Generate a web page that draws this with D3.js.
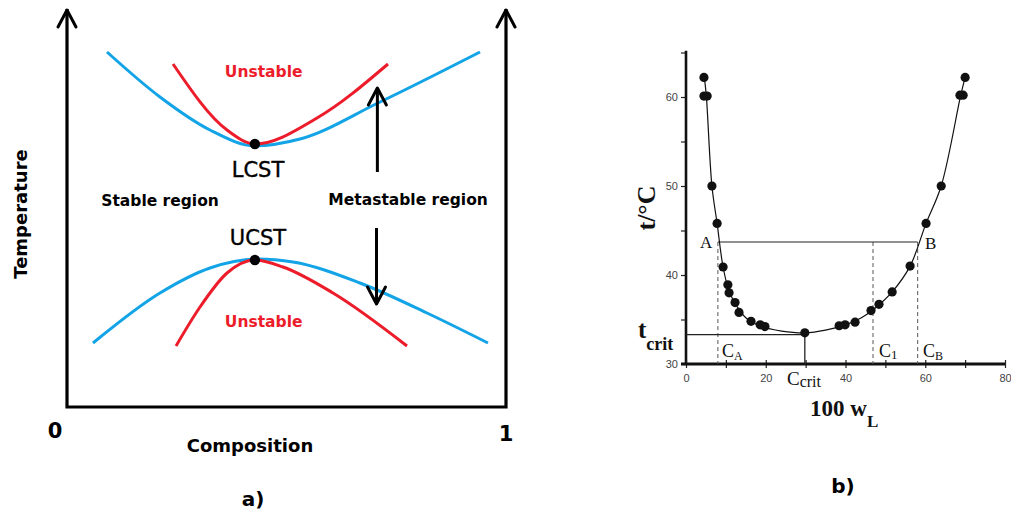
<!DOCTYPE html>
<html>
<head>
<meta charset="utf-8">
<script src="https://cdn.jsdelivr.net/npm/d3@7"></script>
<style>
  body { margin: 0; background: #fff; }
  svg { display: block; }
</style>
</head>
<body>
<div id="chart"></div>
<script>
// ---- panel a: schematic phase diagram (composition 0..1, temperature 0..1)
const upperBlueComp = [0.0911, 0.2118, 0.3257, 0.4282, 0.5308, 0.7084, 0.9408]
const upperBlueTemp = [0.8875, 0.775, 0.6925, 0.653, 0.67, 0.76, 0.8875]
const upperRedComp = [0.2415, 0.3645, 0.4282, 0.5695, 0.7312]
const upperRedTemp = [0.8575, 0.6925, 0.6575, 0.7225, 0.8575]
const lowerBlueComp = [0.0592, 0.2118, 0.3257, 0.4351, 0.5148, 0.6674, 0.8200, 0.9590]
const lowerBlueTemp = [0.16, 0.285, 0.3475, 0.37, 0.3625, 0.31, 0.235, 0.16]
const lowerRedComp = [0.2483, 0.3030, 0.3645, 0.4282, 0.4920, 0.6059, 0.7745]
const lowerRedTemp = [0.1525, 0.25, 0.335, 0.3675, 0.35, 0.285, 0.1525]
const critNames = ["LCST", "UCST"]
const critComp = [0.428, 0.428]
const critTemp = [0.6575, 0.3675]

// ---- panel b: measured cloud points
const wL = [4.5, 4.5, 5.3, 6.5, 7.8, 9.3, 10.5, 10.8, 12.3, 13.3, 16.3, 18.6, 19.8, 29.8, 38.4, 39.9, 42.4, 46.4, 48.4, 51.7, 56.2, 60.2, 64.0, 68.7, 69.5, 70.0]
const tC = [62.2, 60.1, 60.1, 50.0, 45.8, 40.9, 38.9, 38.0, 36.9, 35.8, 34.8, 34.4, 34.2, 33.5, 34.3, 34.4, 34.7, 36.0, 36.7, 38.1, 41.0, 45.8, 50.0, 60.2, 60.2, 62.2]
// fitted curve through the points
const fitW = [4.6, 5.1, 6.5, 7.8, 9.3, 10.8, 12.6, 15, 19, 24, 29.8, 35, 40, 44, 47.5, 51.7, 56.2, 60.2, 64, 68.9, 70]
const fitT = [62.2, 60.1, 50, 45.8, 40.9, 38.2, 36.6, 35.2, 34.2, 33.7, 33.5, 33.8, 34.4, 35.2, 36.3, 38.1, 41, 45.8, 50, 60.2, 62.2]
// tie line and critical point
const tieT = 43.7
const cA = 8.0, c1 = 46.9, cB = 58.1
const cCrit = 29.8, tCrit = 33.3
const xTicks = [0, 10, 20, 30, 40, 50, 60, 70, 80]
const yTicks = [30, 35, 40, 45, 50, 55, 60, 65]

const svg = d3.select("#chart")
  .append("svg")
    .attr("width", 1011)
    .attr("height", 516)

const blue = "#12a4e6", red = "#ec1c2a"
const sans = "'DejaVu Sans', sans-serif"
const serif = "'Liberation Serif', 'Times New Roman', serif"

// ================= panel a =================
const xa = d3.scaleLinear().domain([0, 1]).range([67, 506])
const ya = d3.scaleLinear().domain([0, 1]).range([407, 7])

const ga = svg.append("g")

// frame: two arrows + bottom line
ga.append("path")
  .attr("d", `M${xa(0)},${ya(0.995)} L${xa(0)},${ya(0)} L${xa(1)},${ya(0)} L${xa(1)},${ya(0.995)}`)
  .attr("fill", "none").attr("stroke", "#000").attr("stroke-width", 3.2)
  .attr("stroke-linejoin", "miter")

function chevron(g, x, y, dir) {
  // dir -1 points up, +1 points down
  g.append("path")
    .attr("d", `M${x - 9},${y - dir * 17} L${x},${y} L${x + 9},${y - dir * 17}`)
    .attr("fill", "none").attr("stroke", "#000").attr("stroke-width", 3)
    .attr("stroke-linecap", "round").attr("stroke-linejoin", "round")
}
chevron(ga, xa(0), ya(0.995) + 1, -1)
chevron(ga, xa(1), ya(0.995) + 1, -1)

const lineA = d3.line()
  .x(d => xa(d[0]))
  .y(d => ya(d[1]))
  .curve(d3.curveMonotoneX)

const curvesA = [
  {c: upperBlueComp, t: upperBlueTemp, col: blue},
  {c: lowerBlueComp, t: lowerBlueTemp, col: blue},
  {c: upperRedComp, t: upperRedTemp, col: red},
  {c: lowerRedComp, t: lowerRedTemp, col: red}
]
ga.selectAll(".curveA")
  .data(curvesA)
  .enter()
  .append("path")
    .attr("class", "curveA")
    .attr("d", d => lineA(d.c.map((v, i) => [v, d.t[i]])))
    .attr("fill", "none")
    .attr("stroke", d => d.col)
    .attr("stroke-width", 3)

ga.selectAll(".crit")
  .data(critNames)
  .enter()
  .append("circle")
    .attr("cx", (d, i) => xa(critComp[i]))
    .attr("cy", (d, i) => ya(critTemp[i]))
    .attr("r", 5.2)
    .attr("fill", "#000")

// arrows across the metastable region
function vArrow(g, x, y1, y2) {
  g.append("line")
    .attr("x1", x).attr("x2", x).attr("y1", y1).attr("y2", y2)
    .attr("stroke", "#000").attr("stroke-width", 3)
  chevron(g, x, y2, y2 < y1 ? -1 : 1)
}
vArrow(ga, xa(0.707), ya(0.5875), ya(0.7975))
vArrow(ga, xa(0.705), ya(0.4475), ya(0.2575))

// text labels
const labA = [
  {t: "Unstable", x: 0.448, y: 0.8375, col: red, size: 15.5, w: "bold"},
  {t: "Unstable", x: 0.448, y: 0.2125, col: red, size: 15.5, w: "bold"},
  {t: "LCST", x: 0.435, y: 0.5925, col: "#000", size: 21, w: "normal"},
  {t: "UCST", x: 0.435, y: 0.4225, col: "#000", size: 21, w: "normal"},
  {t: "Stable region", x: 0.212, y: 0.515, col: "#000", size: 15.5, w: "bold"},
  {t: "Metastable region", x: 0.777, y: 0.5175, col: "#000", size: 15.5, w: "bold"}
]
ga.selectAll(".labA")
  .data(labA)
  .enter()
  .append("text")
    .attr("x", d => xa(d.x))
    .attr("y", d => ya(d.y))
    .attr("text-anchor", "middle")
    .attr("dominant-baseline", "central")
    .style("font-family", sans)
    .style("font-size", d => d.size + "px")
    .style("font-weight", d => d.w)
    .style("fill", d => d.col)
    .style("stroke", d => d.w === "normal" ? "#000" : "none")
    .style("stroke-width", 0.4)
    .text(d => d.t)

ga.append("text").attr("x", 55).attr("y", 431)
  .attr("text-anchor", "middle").attr("dominant-baseline", "central")
  .style("font-family", sans).style("font-size", "21px").style("font-weight", "bold")
  .text("0")
ga.append("text").attr("x", 506).attr("y", 434)
  .attr("text-anchor", "middle").attr("dominant-baseline", "central")
  .style("font-family", sans).style("font-size", "21px").style("font-weight", "bold")
  .text("1")
ga.append("text").attr("x", 250).attr("y", 445)
  .attr("text-anchor", "middle").attr("dominant-baseline", "central")
  .style("font-family", sans).style("font-size", "18px").style("font-weight", "bold")
  .text("Composition")
ga.append("text")
  .attr("transform", "translate(20,214) rotate(-90)")
  .attr("text-anchor", "middle").attr("dominant-baseline", "central")
  .style("font-family", sans).style("font-size", "18px").style("font-weight", "bold")
  .text("Temperature")
ga.append("text").attr("x", 253).attr("y", 499)
  .attr("text-anchor", "middle").attr("dominant-baseline", "central")
  .style("font-family", sans).style("font-size", "20px").style("font-weight", "bold")
  .text("a)")

// ================= panel b =================
const xb = d3.scaleLinear().domain([0, 80]).range([686, 1005])
const yb = d3.scaleLinear().domain([30, 60]).range([364, 97])

const gb = svg.append("g")

// y axis
gb.append("g")
  .attr("transform", `translate(${xb(0)},0)`)
  .call(d3.axisLeft(yb).tickValues(yTicks).tickSize(5).tickPadding(3)
    .tickFormat(d => d % 10 === 0 ? d : ""))
  .call(g => g.select(".domain").remove())
  .call(g => g.selectAll("line").attr("stroke", "#222").attr("stroke-width", 1.2))
  .call(g => g.selectAll("text").style("font-family", "'Liberation Sans', sans-serif")
    .style("font-size", "11px").style("fill", "#444"))
gb.append("line")
  .attr("x1", xb(0)).attr("x2", xb(0)).attr("y1", yb(30) + 1).attr("y2", yb(65.2))
  .attr("stroke", "#111").attr("stroke-width", 2.6)

// x axis
gb.append("g")
  .attr("transform", `translate(0,${yb(30)})`)
  .call(d3.axisBottom(xb).tickValues(xTicks).tickSize(4).tickPadding(6)
    .tickFormat(d => d % 20 === 0 ? d : ""))
  .call(g => g.select(".domain").remove())
  .call(g => g.selectAll("line").attr("stroke", "#222").attr("stroke-width", 1.2).attr("y1", -4))
  .call(g => g.selectAll("text").style("font-family", "'Liberation Sans', sans-serif")
    .style("font-size", "11px").style("fill", "#444"))
gb.append("line")
  .attr("x1", xb(0) - 5).attr("x2", xb(80)).attr("y1", yb(30)).attr("y2", yb(30))
  .attr("stroke", "#111").attr("stroke-width", 3)

// dashed composition guides
gb.selectAll(".guide")
  .data([cA, c1, cB])
  .enter()
  .append("line")
    .attr("x1", d => xb(d)).attr("x2", d => xb(d))
    .attr("y1", yb(tieT)).attr("y2", yb(30))
    .attr("stroke", "#555").attr("stroke-width", 1)
    .attr("stroke-dasharray", "4,3")

// tie line A-B
gb.append("line")
  .attr("x1", xb(cA)).attr("x2", xb(cB)).attr("y1", yb(tieT)).attr("y2", yb(tieT))
  .attr("stroke", "#222").attr("stroke-width", 1.1)

// critical lines
gb.append("path")
  .attr("d", `M${xb(0)},${yb(tCrit)} L${xb(cCrit)},${yb(tCrit)} L${xb(cCrit)},${yb(30)}`)
  .attr("fill", "none").attr("stroke", "#222").attr("stroke-width", 1.3)

// fitted curve
const lineB = d3.line()
  .x(d => xb(d[0]))
  .y(d => yb(d[1]))
  .curve(d3.curveCatmullRom.alpha(0.5))
gb.append("path")
  .attr("d", lineB(fitW.map((v, i) => [v, fitT[i]])))
  .attr("fill", "none").attr("stroke", "#111").attr("stroke-width", 1.2)

// data points
gb.selectAll(".pt")
  .data(wL)
  .enter()
  .append("circle")
    .attr("cx", d => xb(d))
    .attr("cy", (d, i) => yb(tC[i]))
    .attr("r", 4.6)
    .attr("fill", "#111")

// panel b labels
function serifText(x, y, size, weight, anchor) {
  return gb.append("text").attr("x", x).attr("y", y)
    .attr("text-anchor", anchor || "start")
    .style("font-family", serif).style("font-size", size + "px").style("font-weight", weight)
    .style("fill", "#111")
}
serifText(700, 248, 17, "normal").text("A")
serifText(925, 249, 17, "normal").text("B")

const ca = serifText(722, 357, 18, "normal")
ca.append("tspan").text("C")
ca.append("tspan").attr("dy", 3).style("font-size", "12px").text("A")
const c1t = serifText(879, 357, 18, "normal")
c1t.append("tspan").text("C")
c1t.append("tspan").attr("dy", 2).style("font-size", "13px").text("1")
const cb = serifText(923, 357, 18, "normal")
cb.append("tspan").text("C")
cb.append("tspan").attr("dy", 3).style("font-size", "12px").text("B")

const cc = serifText(787, 385, 19, "normal")
cc.append("tspan").text("C")
cc.append("tspan").attr("dy", 2).style("font-size", "16px").text("crit")

const tc = serifText(638, 338, 25, "bold")
tc.append("tspan").text("t")
tc.append("tspan").attr("dy", 12).style("font-size", "18px").text("crit")

const wl = serifText(810, 416, 23, "bold")
wl.append("tspan").text("100 w")
wl.append("tspan").attr("dy", 11).style("font-size", "17px").text("L")

gb.append("text")
  .attr("transform", "translate(646,208) rotate(-90)")
  .attr("text-anchor", "middle").attr("dominant-baseline", "central")
  .style("font-family", serif).style("font-size", "26px").style("font-weight", "bold")
  .style("fill", "#111")
  .text("t/°C")

gb.append("text").attr("x", 843).attr("y", 486)
  .attr("text-anchor", "middle").attr("dominant-baseline", "central")
  .style("font-family", sans).style("font-size", "20px").style("font-weight", "bold")
  .text("b)")
</script>
</body>
</html>
